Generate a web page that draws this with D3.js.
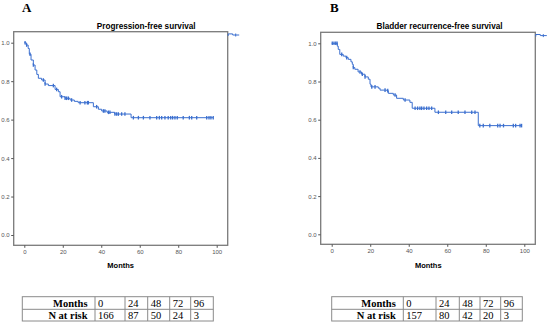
<!DOCTYPE html>
<html><head>
<meta charset="utf-8">
<title>KM curves</title>
<style>
  body {margin:0; background:#fff;}
  svg {display:block;}
</style>
</head>
<body>
<script src="https://d3js.org/d3.v7.min.js"></script>
<script>
// ---- data ----
var panelLetters = ["A", "B"];
var panelTitles = ["Progression-free survival", "Bladder recurrence-free survival"];
var xTicks = [0, 20, 40, 60, 80, 100];
var yTicks = [0.0, 0.2, 0.4, 0.6, 0.8, 1.0];

// panel A: step times (months) and survival after each step
var timesA = [0, 1, 2, 2.6, 3.5, 4.7, 5.6, 6.5, 7.3, 9, 10.8, 12.5, 16, 17.7, 18.6, 21.2, 23.8, 26, 28, 35.9, 38.5, 40.2, 43, 47, 55.5];
var survA  = [1, 0.988, 0.97, 0.94, 0.91, 0.884, 0.858, 0.835, 0.815, 0.806, 0.785, 0.777, 0.757, 0.745, 0.719, 0.711, 0.702, 0.695, 0.688, 0.667, 0.654, 0.645, 0.638, 0.629, 0.61];
var censorA = [0.4, 1.2, 3, 4.7, 9.9, 10.8, 15.1, 16.8, 19.4, 21.2, 22, 22.9, 24.6, 29, 31.5, 32.8, 33.3, 37.6, 41.1, 41.9, 43.7, 44.5, 47.1, 48, 48.9, 50.6, 52.3,
               56.7, 59.3, 61.9, 65.3, 68.8, 70.2, 71.4, 73.1, 74.8, 76.1, 77.1, 78.3, 79.5, 82.6, 85.8, 87, 89.6, 94.8, 96, 97, 98.2];

// panel B
var timesB = [0, 2.9, 3.4, 4.2, 6.0, 7.4, 8.6, 10, 10.7, 11.2, 12, 13.7, 15.5, 17.3, 19, 19.9, 20.4, 24.2, 25.1, 28.6, 29.4, 32, 33.7, 37.2, 40.6, 41.8, 53.6, 76.1];
var survB  = [1, 0.985, 0.968, 0.942, 0.933, 0.925, 0.916, 0.903, 0.89, 0.873, 0.864, 0.85, 0.838, 0.824, 0.812, 0.786, 0.772, 0.765, 0.755, 0.752, 0.738, 0.729, 0.712, 0.703, 0.691, 0.66, 0.639, 0.569];
var censorB = [0.3, 1.2, 2.1, 2.8, 5.2, 7.8, 11.2, 14.7, 15.9, 17.3, 20.8, 22.5, 27.7, 29.1, 32.9, 38.1, 43.3, 44.6, 45.8, 46.7, 47.9, 49.3, 50.5, 51.9,
               55.4, 59.2, 62.3, 65.7, 69.2, 72.7, 74.4, 76.9, 78.7, 82.1, 86.2, 87.4, 89.2, 94.3, 95.5, 97.8, 98.6];

// number at risk tables
var riskMonths = [0, 24, 48, 72, 96];
var riskA = [166, 87, 50, 24, 3];
var riskB = [157, 80, 42, 20, 3];

var width = 550, height = 324;
var blue = "#3b6fcf";

var svg = d3.select("body").append("svg")
    .attr("width", width)
    .attr("height", height);

// layout per panel
var panels = [
  {letter: panelLetters[0], title: panelTitles[0], times: timesA, surv: survA, censor: censorA, risk: riskA,
   box: [13.7, 31.7, 227.7, 245.3], xr: [24.3, 216.7], yr: [235, 42.7], letterX: 22,
   titleX: 146.2, labelX: 120.7,
   cols: [22.3, 95, 125, 147.7, 169.7, 190.7, 213.3]},
  {letter: panelLetters[1], title: panelTitles[1], times: timesB, surv: survB, censor: censorB, risk: riskB,
   box: [320.7, 32.3, 535.3, 244.3], xr: [331.7, 524.3], yr: [234.3, 43.3], letterX: 330,
   titleX: 439.5, labelX: 428.3,
   cols: [331.7, 403.3, 436, 459.3, 480, 500.7, 522.3]}
];

function survAt(times, surv, t) {
  var i = d3.bisectRight(times, t) - 1;
  return surv[Math.max(0, i)];
}

panels.forEach(function(p) {
  var g = svg.append("g");
  var x = d3.scaleLinear().domain([0, 100]).range(p.xr);
  var y = d3.scaleLinear().domain([0, 1]).range(p.yr);
  var L = p.box[0], T = p.box[1], R = p.box[2], B = p.box[3];

  // panel letter
  g.append("text")
    .attr("x", p.letterX).attr("y", 12)
    .attr("font-family", "Liberation Serif, Times New Roman, serif")
    .attr("font-weight", "bold").attr("font-size", 13)
    .text(p.letter);

  // title
  g.append("text")
    .attr("x", p.titleX).attr("y", 28.6)
    .attr("text-anchor", "middle")
    .attr("font-family", "Liberation Sans, Arial, sans-serif")
    .attr("font-weight", "bold").attr("font-size", 8.2)
    .text(p.title);

  // plot frame
  g.append("rect")
    .attr("x", L).attr("y", T)
    .attr("width", R - L).attr("height", B - T)
    .attr("fill", "none").attr("stroke", "#7a7a7a").attr("stroke-width", 1.3);

  // y axis
  var yAxis = d3.axisLeft(y).tickValues(yTicks).tickSize(2.5).tickPadding(1.5)
      .tickFormat(d3.format(".1f"));
  var ya = g.append("g").attr("transform", "translate(" + L + ",0)").call(yAxis);
  ya.select(".domain").remove();
  ya.selectAll("line").attr("stroke", "#555");
  ya.selectAll("text").attr("font-size", 6).attr("fill", "#555")
    .attr("font-family", "Liberation Sans, Arial, sans-serif");

  // x axis
  var xAxis = d3.axisBottom(x).tickValues(xTicks).tickSize(2.5).tickPadding(1.5);
  var xa = g.append("g").attr("transform", "translate(0," + B + ")").call(xAxis);
  xa.select(".domain").remove();
  xa.selectAll("line").attr("stroke", "#555");
  xa.selectAll("text").attr("font-size", 6).attr("fill", "#555")
    .attr("font-family", "Liberation Sans, Arial, sans-serif");

  // x label
  g.append("text")
    .attr("x", p.labelX).attr("y", 268)
    .attr("text-anchor", "middle")
    .attr("font-family", "Liberation Sans, Arial, sans-serif")
    .attr("font-weight", "bold").attr("font-size", 7.5)
    .text("Months");

  // KM step line
  var pts = p.times.map(function(t, i) { return [t, p.surv[i]]; });
  var tEnd = d3.max(p.censor);
  pts.push([tEnd, p.surv[p.surv.length - 1]]);
  var line = d3.line()
    .x(function(d) { return x(d[0]); })
    .y(function(d) { return y(d[1]); })
    .curve(d3.curveStepAfter);
  g.append("path")
    .attr("d", line(pts))
    .attr("fill", "none").attr("stroke", blue).attr("stroke-width", 1);

  // censor marks
  g.selectAll(".cens").data(p.censor).enter().append("line")
    .attr("x1", function(d) { return x(d); })
    .attr("x2", function(d) { return x(d); })
    .attr("y1", function(d) { return y(survAt(p.times, p.surv, d)) - 1.8; })
    .attr("y2", function(d) { return y(survAt(p.times, p.surv, d)) + 1.8; })
    .attr("stroke", blue).attr("stroke-width", 1.3);

  // cut-off legend stub at top right
  g.append("path")
    .attr("d", "M" + (R + 0.5) + "," + (T + 4.2) + "V" + (T + 2.2) + "H" + (R + 5) + "V" + (T + 3.3) + "H" + (R + 11.5))
    .attr("fill", "none").attr("stroke", blue).attr("stroke-width", 1);
  g.append("line")
    .attr("x1", R + 8).attr("x2", R + 8).attr("y1", T + 1.8).attr("y2", T + 4.8)
    .attr("stroke", blue).attr("stroke-width", 1);

  // number at risk table
  var cols = p.cols, rows = [296.7, 309.3, 321];
  var tg = g.append("g");
  tg.append("rect")
    .attr("x", cols[0]).attr("y", rows[0])
    .attr("width", cols[cols.length - 1] - cols[0]).attr("height", rows[2] - rows[0])
    .attr("fill", "none").attr("stroke", "#8a8a8a").attr("stroke-width", 1);
  tg.selectAll(".vl").data(cols.slice(1, -1)).enter().append("line")
    .attr("x1", function(d) { return d; }).attr("x2", function(d) { return d; })
    .attr("y1", rows[0]).attr("y2", rows[2])
    .attr("stroke", "#8a8a8a").attr("stroke-width", 1);
  tg.append("line")
    .attr("x1", cols[0]).attr("x2", cols[cols.length - 1])
    .attr("y1", rows[1]).attr("y2", rows[1])
    .attr("stroke", "#8a8a8a").attr("stroke-width", 1);

  var labels = ["Months", "N at risk"];
  var rowVals = [riskMonths, p.risk];
  labels.forEach(function(lab, r) {
    tg.append("text")
      .attr("x", cols[1] - 7.5).attr("y", rows[r] + 10)
      .attr("text-anchor", "end")
      .attr("font-family", "Liberation Serif, Times New Roman, serif")
      .attr("font-weight", "bold").attr("font-size", 10.5)
      .text(lab);
    tg.selectAll(".v" + r).data(rowVals[r]).enter().append("text")
      .attr("x", function(d, i) { return cols[i + 1] + 3; })
      .attr("y", rows[r] + 10)
      .attr("font-family", "Liberation Serif, Times New Roman, serif")
      .attr("font-size", 10.5)
      .text(function(d) { return d; });
  });
});
</script>
</body></html>
